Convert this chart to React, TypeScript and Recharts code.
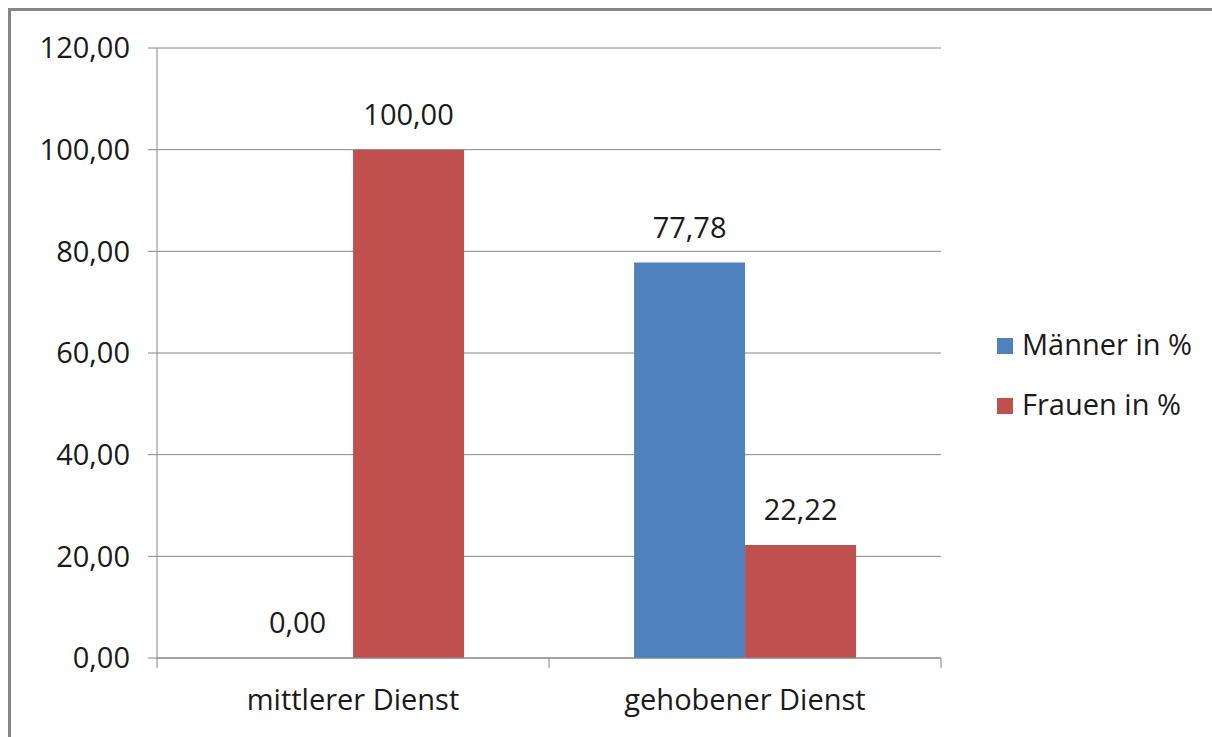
import { Bar, BarChart, CartesianGrid, LabelList, Legend, XAxis, YAxis } from "recharts";

const KATEGORIEN = ["mittlerer Dienst", "gehobener Dienst"];
const MAENNER = [0, 77.78];
const FRAUEN = [100, 22.22];
const SERIEN = ["Männer in %", "Frauen in %"];
const Y_TICKS = [0, 20, 40, 60, 80, 100, 120];

const BLAU = "#4f81bd";
const ROT = "#c0504d";
const GRID = "#868686";
const INK = "#1a1a1a";
const FONT = "'Open Sans', sans-serif";
const FS = 29;

const W = 1212;
const H = 737;
const PLOT_LEFT = 157;
const PLOT_RIGHT = 941;
const BAND = (PLOT_RIGHT - PLOT_LEFT) / KATEGORIEN.length;

const data = KATEGORIEN.map((k, i) => ({
  kategorie: k,
  maenner: MAENNER[i],
  frauen: FRAUEN[i],
}));

const fmt = (v: number) => Number(v).toFixed(2).replace(".", ",");

// 0-Balken sonst ohne Beschriftung
const minHoehe = (v: any) => (Number(v) === 0 ? 0.01 : 0);

function WertLabel(props: any) {
  const { x, y, width, value } = props;
  return (
    <text
      x={x + width / 2}
      y={y - 25}
      textAnchor="middle"
      fontSize={FS}
      fontFamily={FONT}
      fill={INK}
    >
      {fmt(value)}
    </text>
  );
}

function KategorieTick(props: any) {
  const { x, y, payload, index } = props;
  const last = index === KATEGORIEN.length - 1;
  return (
    <g>
      <line x1={x - BAND / 2} x2={x - BAND / 2} y1={y - 10} y2={y} stroke={GRID} />
      {last && (
        <line x1={x + BAND / 2} x2={x + BAND / 2} y1={y - 10} y2={y} stroke={GRID} />
      )}
      <text x={x} y={y + 42} textAnchor="middle" fontSize={FS} fontFamily={FONT} fill={INK}>
        {payload.value}
      </text>
    </g>
  );
}

function Legende(props: any) {
  const items = [...(props.payload || [])].sort(
    (a: any, b: any) => SERIEN.indexOf(a.value) - SERIEN.indexOf(b.value)
  );
  return (
    <div style={{ fontFamily: FONT, fontSize: FS, color: INK }}>
      {items.map((p: any) => (
        <div
          key={p.value}
          style={{ display: "flex", alignItems: "center", height: 40, lineHeight: "40px", marginBottom: 20 }}
        >
          <span style={{ width: 16, height: 16, background: p.color, marginRight: 9, marginTop: 3 }} />
          <span>{p.value}</span>
        </div>
      ))}
    </div>
  );
}

export default function App() {
  return (
    <div style={{ position: "absolute", left: 0, top: 0, width: W, height: H, overflow: "hidden", background: "#fff" }}>
      <div
        style={{
          position: "absolute",
          left: 8,
          top: 8,
          width: 1300,
          height: 800,
          border: `3px solid ${GRID}`,
        }}
      />
      <div style={{ position: "absolute", left: 0, top: 0 }}>
        <BarChart
          width={W}
          height={H}
          data={data}
          margin={{ top: 48, right: W - PLOT_RIGHT, left: 7, bottom: 19 }}
          barCategoryGap="21.7%"
          barGap={0}
        >
          <CartesianGrid vertical={false} stroke={GRID} />
          <XAxis
            dataKey="kategorie"
            height={60}
            axisLine={{ stroke: GRID }}
            tickLine={false}
            tickSize={10}
            tickMargin={0}
            tick={<KategorieTick />}
            interval={0}
          />
          <YAxis
            width={150}
            domain={[0, 120]}
            ticks={Y_TICKS}
            tickFormatter={fmt}
            axisLine={{ stroke: GRID }}
            tickLine={{ stroke: GRID }}
            tickSize={9}
            tickMargin={18}
            tick={{ fontSize: FS, fontFamily: FONT, fill: INK }}
          />
          <Legend
            layout="vertical"
            align="center"
            verticalAlign="middle"
            content={<Legende />}
            wrapperStyle={{ left: 997, top: 324, width: 215 }}
          />
          <Bar dataKey="maenner" name={SERIEN[0]} fill={BLAU} minPointSize={minHoehe} isAnimationActive={false}>
            <LabelList dataKey="maenner" content={<WertLabel />} />
          </Bar>
          <Bar dataKey="frauen" name={SERIEN[1]} fill={ROT} minPointSize={minHoehe} isAnimationActive={false}>
            <LabelList dataKey="frauen" content={<WertLabel />} />
          </Bar>
        </BarChart>
      </div>
    </div>
  );
}
